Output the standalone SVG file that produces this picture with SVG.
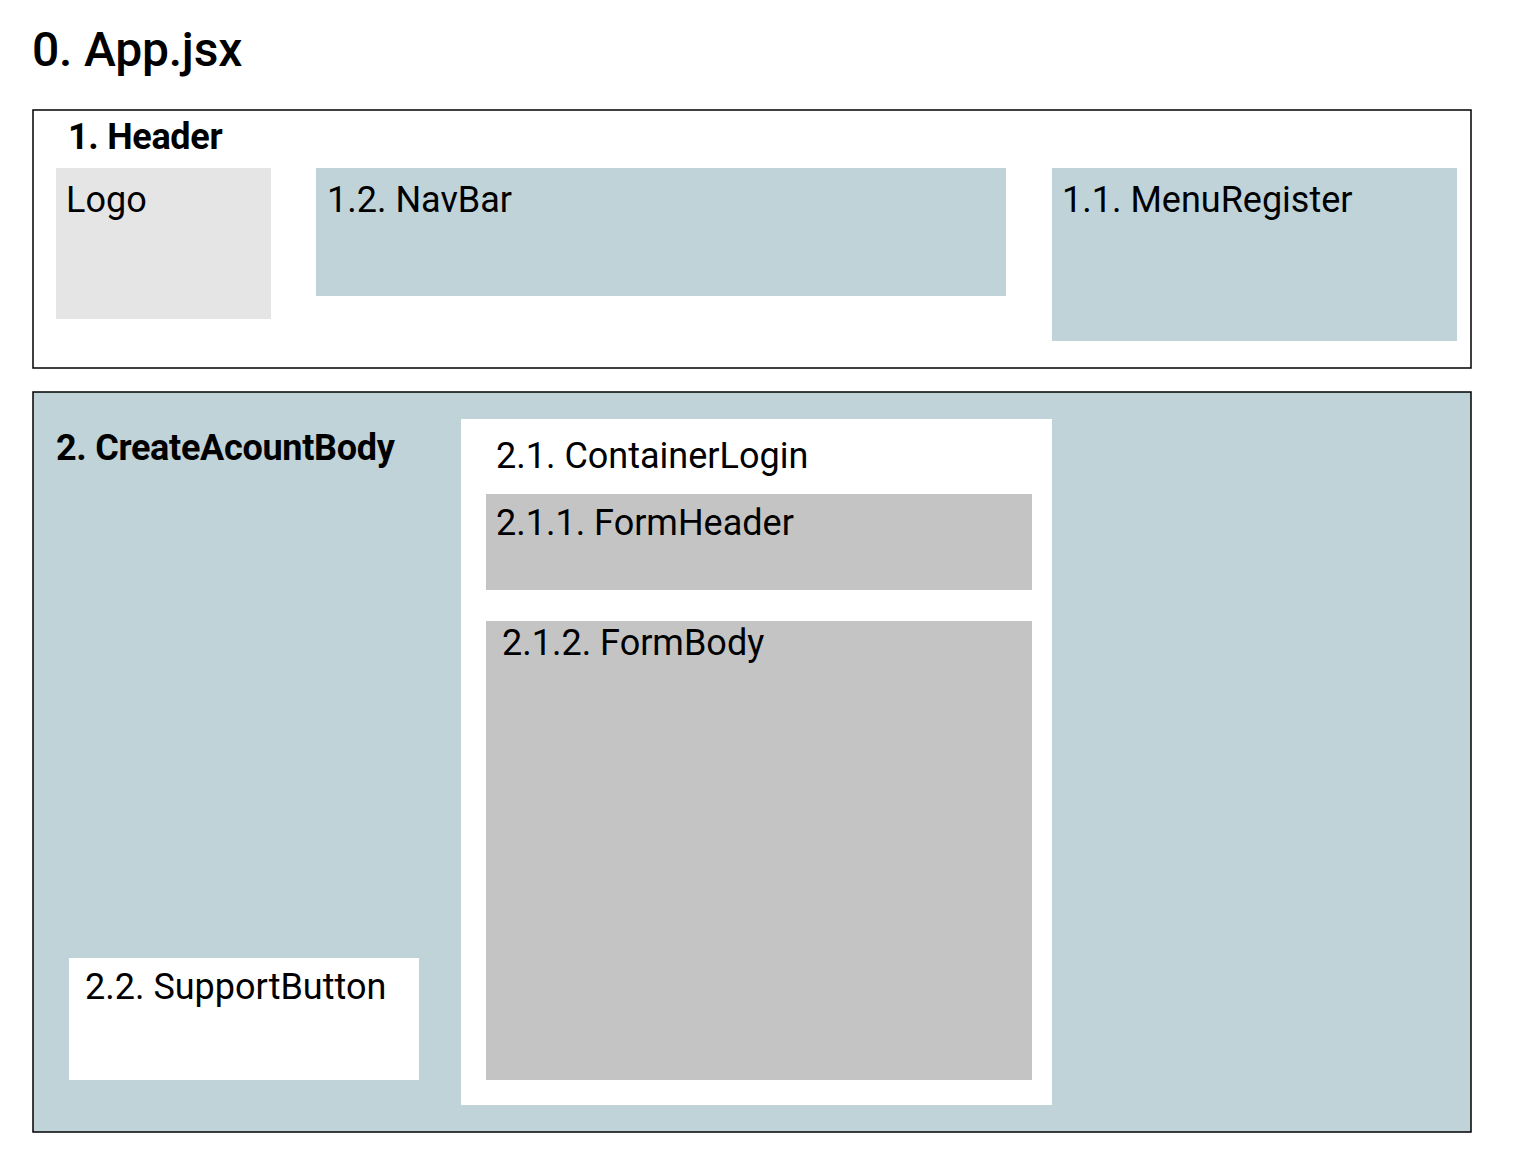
<svg xmlns="http://www.w3.org/2000/svg" width="1528" height="1174" viewBox="0 0 1528 1174">
<style>
.t{font-family:Roboto,"Liberation Sans",sans-serif;font-size:36px;fill:#000}
.b{font-weight:bold;letter-spacing:-0.3px}
.blue{fill:#bfd3d9}
.grey{fill:#c4c4c4}
.white{fill:#fff}
.frame{stroke:#000;stroke-width:1.5}
</style>
<rect width="1528" height="1174" fill="#fff"/>
<g id="app">
<text class="t" x="32" y="66" style="font-size:48px;font-weight:500;letter-spacing:-0.2px">0. App.jsx</text>
</g>
<g id="header">
<rect class="white frame" x="33" y="110" width="1438" height="258"/>
<text class="t b" x="68" y="149">1. Header</text>
</g>
<g id="logo">
<rect x="56" y="168" width="215" height="151" fill="#e5e5e5"/>
<text class="t" x="66" y="212">Logo</text>
</g>
<g id="navbar">
<rect class="blue" x="316" y="168" width="690" height="128"/>
<text class="t" x="327" y="212">1.2. NavBar</text>
</g>
<g id="menuregister">
<rect class="blue" x="1052" y="168" width="405" height="173"/>
<text class="t" x="1062" y="212">1.1. MenuRegister</text>
</g>
<g id="createaccountbody">
<rect class="blue frame" x="33" y="392" width="1438" height="740"/>
<text class="t b" x="56" y="460">2. CreateAcountBody</text>
</g>
<g id="containerlogin">
<rect class="white" x="461" y="419" width="591" height="686"/>
<text class="t" x="496" y="468">2.1. ContainerLogin</text>
</g>
<g id="formheader">
<rect class="grey" x="486" y="494" width="546" height="96"/>
<text class="t" x="496" y="535">2.1.1. FormHeader</text>
</g>
<g id="formbody">
<rect class="grey" x="486" y="621" width="546" height="459"/>
<text class="t" x="502" y="655">2.1.2. FormBody</text>
</g>
<g id="supportbutton">
<rect class="white" x="69" y="958" width="350" height="122"/>
<text class="t" x="85" y="999">2.2. SupportButton</text>
</g>
<g id="connectors"/>
</svg>
